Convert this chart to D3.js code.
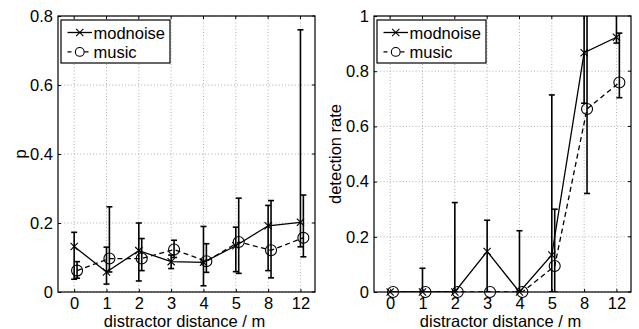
<!DOCTYPE html>
<html>
<head>
<meta charset="utf-8">
<script src="https://cdn.jsdelivr.net/npm/d3@7"></script>
<style>
  html, body { margin: 0; padding: 0; background: #fff; }
  svg { display: block; }
  text { font-family: "Liberation Sans", Arial, Helvetica, sans-serif; fill: #000; }
</style>
</head>
<body>
<svg id="chart" width="639" height="329"></svg>
<script>
// ---------- data ----------
const categories = ["0", "1", "2", "3", "4", "5", "8", "12"];
const seriesNames = ["modnoise", "music"];

// left panel: p
const modnoiseP   = [0.132, 0.058, 0.120, 0.088, 0.086, 0.134, 0.192, 0.202];
const modnoisePLo = [0.037, 0.023, 0.032, 0.068, 0.018, 0.059, 0.062, 0.131];
const modnoisePHi = [0.173, 0.130, 0.200, 0.107, 0.190, 0.188, 0.251, 0.760];
const musicP      = [0.062, 0.097, 0.097, 0.123, 0.089, 0.145, 0.121, 0.157];
const musicPLo    = [0.040, 0.058, 0.062, 0.100, 0.057, 0.054, 0.041, 0.102];
const musicPHi    = [0.088, 0.247, 0.155, 0.150, 0.140, 0.272, 0.265, 0.281];

// right panel: detection rate
const modnoiseD   = [0, 0, 0, 0.147, 0, 0.134, 0.867, 0.923];
const modnoiseDLo = [0, 0, 0, 0, 0, 0, 0.684, 0.902];
const modnoiseDHi = [0, 0.086, 0.324, 0.260, 0.222, 0.714, 1.05, 1.05];
const musicD      = [0, 0, 0, 0, 0, 0.094, 0.663, 0.759];
const musicDLo    = [0, 0, 0, 0, 0, 0, 0.357, 0.704];
const musicDHi    = [0, 0, 0, 0, 0, 0.300, 1.05, 0.938];

const yTicksLeft  = [0, 0.2, 0.4, 0.6, 0.8];
const yTicksRight = [0, 0.2, 0.4, 0.6, 0.8, 1];
const xLabel = "distractor distance / m";

// ---------- drawing ----------
const svg = d3.select("#chart");
const FS = 16.5;
const musicOffset = 0.09;

function panel(opts) {
  const { left, right, top, bottom, yMax, yTicks, yLabel, yLabelX, series, legendBox, id } = opts;
  const g = svg.append("g");
  const x = d3.scaleLinear().domain([0.5, 8.45]).range([left, right]);
  const y = d3.scaleLinear().domain([0, yMax]).range([bottom, top]);

  g.append("clipPath").attr("id", id).append("rect")
    .attr("x", left).attr("y", top).attr("width", right - left).attr("height", bottom - top);

  // grid
  const grid = g.append("g").attr("stroke", "#9a9a9a").attr("stroke-width", 0.8)
    .attr("stroke-dasharray", "1,2.2");
  categories.forEach((c, i) => {
    grid.append("line").attr("x1", x(i + 1)).attr("x2", x(i + 1)).attr("y1", top).attr("y2", bottom);
  });
  yTicks.forEach(t => {
    grid.append("line").attr("x1", left).attr("x2", right).attr("y1", y(t)).attr("y2", y(t));
  });

  // axes via d3 axis (labels), ticks drawn inward
  const xAxis = d3.axisBottom(x).tickValues(categories.map((c, i) => i + 1))
    .tickFormat((d) => categories[d - 1]).tickSizeInner(-3).tickSizeOuter(0).tickPadding(5.5);
  const gx = g.append("g").attr("transform", `translate(0,${bottom})`).call(xAxis);
  const yAxis = d3.axisLeft(y).tickValues(yTicks).tickFormat(d3.format("~g"))
    .tickSizeInner(-3).tickSizeOuter(0).tickPadding(5);
  const gy = g.append("g").attr("transform", `translate(${left},0)`).call(yAxis);
  [gx, gy].forEach(ax => {
    ax.select(".domain").remove();
    ax.selectAll("line").attr("stroke", "#000").attr("stroke-width", 1);
    ax.selectAll("text").attr("font-size", FS).attr("font-family", "Liberation Sans, Arial, sans-serif").attr("fill", "#000");
  });
  // top & right inward ticks
  categories.forEach((c, i) => {
    g.append("line").attr("x1", x(i + 1)).attr("x2", x(i + 1)).attr("y1", top).attr("y2", top + 3).attr("stroke", "#000");
  });
  yTicks.forEach(t => {
    g.append("line").attr("x1", right).attr("x2", right - 3).attr("y1", y(t)).attr("y2", y(t)).attr("stroke", "#000");
  });

  // axis labels
  g.append("text").attr("x", (left + right) / 2 - 2).attr("y", 326.5).attr("text-anchor", "middle")
    .attr("font-size", FS).text(xLabel);
  g.append("text").attr("transform", `translate(${yLabelX},${(top + bottom) / 2}) rotate(-90)`)
    .attr("text-anchor", "middle").attr("font-size", FS).text(yLabel);

  // data
  const clipG = g.append("g").attr("clip-path", `url(#${id})`);
  series.forEach(s => {
    const pts = s.v.map((v, i) => ({ xi: i + 1 + s.off, v, lo: s.lo[i], hi: s.hi[i] }));
    // error bars
    const eb = clipG.append("g").attr("stroke", "#000").attr("stroke-width", 1.6);
    pts.forEach(p => {
      if (p.hi - p.lo <= 0) return;
      const cx = x(p.xi);
      eb.append("line").attr("x1", cx).attr("x2", cx).attr("y1", y(p.lo)).attr("y2", y(p.hi));
      eb.append("line").attr("x1", cx - 3).attr("x2", cx + 3).attr("y1", y(p.lo)).attr("y2", y(p.lo));
      eb.append("line").attr("x1", cx - 3).attr("x2", cx + 3).attr("y1", y(p.hi)).attr("y2", y(p.hi));
    });
    // line
    const line = d3.line().x(p => x(p.xi)).y(p => y(p.v));
    clipG.append("path").datum(pts).attr("d", line).attr("fill", "none").attr("stroke", "#000")
      .attr("stroke-width", 1.3).attr("stroke-dasharray", s.dash ? "5,3.5" : null);
    // markers (not clipped)
    const mg = g.append("g").attr("stroke", "#000").attr("stroke-width", 1.1).attr("fill", "none");
    pts.forEach(p => drawMarker(mg, s.marker, x(p.xi), y(p.v)));
  });

  // axes box
  g.append("rect").attr("x", left).attr("y", top).attr("width", right - left).attr("height", bottom - top)
    .attr("fill", "none").attr("stroke", "#000").attr("stroke-width", 1.2);

  // legend
  const lb = legendBox;
  const lg = g.append("g");
  lg.append("rect").attr("x", lb.x).attr("y", lb.y).attr("width", lb.w).attr("height", lb.h)
    .attr("fill", "#fff").attr("stroke", "#000").attr("stroke-width", 1.2);
  series.forEach((s, k) => {
    const ly = lb.y + 12.5 + k * 19.4;
    const x0 = lb.x + 6.5, x1 = lb.x + 31;
    lg.append("line").attr("x1", x0).attr("x2", x1).attr("y1", ly).attr("y2", ly)
      .attr("stroke", "#000").attr("stroke-width", 1.3).attr("stroke-dasharray", s.dash ? "4,4.5" : null);
    const mg = lg.append("g").attr("stroke", "#000").attr("stroke-width", 1.1).attr("fill", s.dash ? "#fff" : "none");
    drawMarker(mg, s.marker, (x0 + x1) / 2, ly, true);
    lg.append("text").attr("x", x1 + 1.5).attr("y", ly + 6).attr("font-size", FS).text(s.name);
  });
}

function drawMarker(g, type, cx, cy, small) {
  if (type === "x") {
    const r = 3.6;
    g.append("line").attr("x1", cx - r).attr("x2", cx + r).attr("y1", cy - r).attr("y2", cy + r);
    g.append("line").attr("x1", cx - r).attr("x2", cx + r).attr("y1", cy + r).attr("y2", cy - r);
  } else {
    g.append("circle").attr("cx", cx).attr("cy", cy).attr("r", small ? 4.4 : 5.5);
  }
}

panel({
  id: "clipL", left: 58, right: 315, top: 16, bottom: 292, yMax: 0.8,
  yTicks: yTicksLeft, yLabel: "p", yLabelX: 26,
  legendBox: { x: 61, y: 20, w: 109, h: 43 },
  series: [
    { name: seriesNames[0], v: modnoiseP, lo: modnoisePLo, hi: modnoisePHi, off: 0, marker: "x", dash: false },
    { name: seriesNames[1], v: musicP, lo: musicPLo, hi: musicPHi, off: musicOffset, marker: "o", dash: true }
  ]
});
panel({
  id: "clipR", left: 374, right: 631, top: 16, bottom: 292, yMax: 1,
  yTicks: yTicksRight, yLabel: "detection rate", yLabelX: 341,
  legendBox: { x: 377, y: 20, w: 109, h: 43 },
  series: [
    { name: seriesNames[0], v: modnoiseD, lo: modnoiseDLo, hi: modnoiseDHi, off: 0, marker: "x", dash: false },
    { name: seriesNames[1], v: musicD, lo: musicDLo, hi: musicDHi, off: musicOffset, marker: "o", dash: true }
  ]
});
</script>
</body>
</html>
